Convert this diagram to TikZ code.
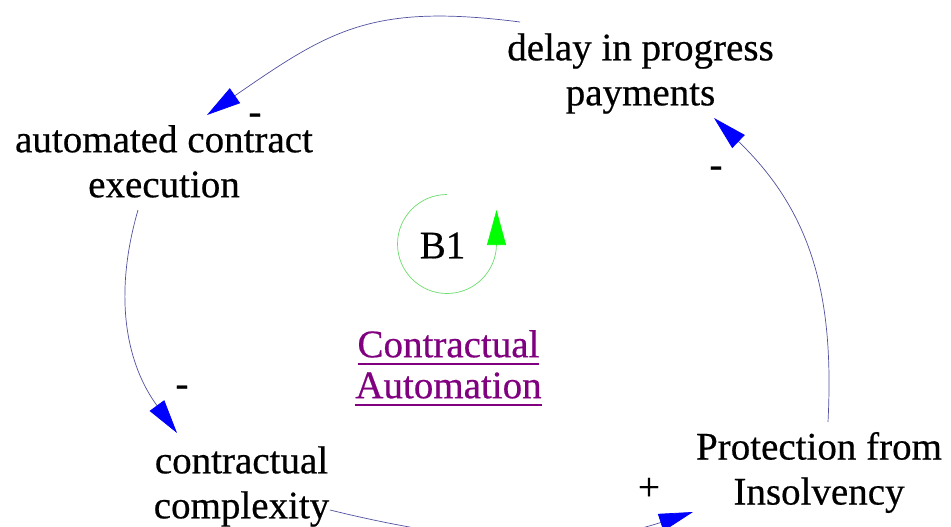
\documentclass[tikz,border=0pt]{standalone}
\usepackage{fontspec}
\setmainfont{Liberation Serif}[FakeBold=0.5]
\usetikzlibrary{arrows.meta}
\definecolor{linkline}{RGB}{80,80,160}
\definecolor{tipblue}{RGB}{0,0,255}
\definecolor{loopgreen}{RGB}{110,220,110}
\definecolor{tipgreen}{RGB}{0,255,0}
\definecolor{looppurple}{RGB}{128,0,128}
\newsavebox\ulbox
\newcommand\ulline[1]{\sbox\ulbox{#1}\rlap{\rule[-8pt]{\wd\ulbox}{2pt}}\usebox\ulbox}
\begin{document}
\begin{tikzpicture}[x=1pt,y=-1pt,
  var/.style={font=\fontsize{39}{45}\selectfont, align=center, inner sep=0pt},
  pol/.style={font=\fontsize{39}{45}\selectfont, inner sep=0pt},
  looptitle/.style={font=\fontsize{39}{41}\selectfont, text=looppurple, align=center, inner sep=0pt},
  loopname/.style={font=\fontsize{39}{45}\selectfont, inner sep=0pt},
  link/.style={draw=linkline, line width=0.7pt,
    -{Triangle[length=34pt,width=18pt,color=tipblue]}},
  looparrow/.style={draw=loopgreen, line width=0.7pt,
    -{Triangle[length=35pt,width=19pt,color=tipgreen]}}]
\fill[white] (0,0) rectangle (951,527);
\path[use as bounding box] (0,0) rectangle (951,527);

% variables
\node[var] (delay) at (640.5,73.5) {delay in progress\\payments};
\node[var] (auto) at (164,161.4) {automated contract\\execution};
\node[var] (cplx) at (241.5,486.5) {contractual\\complexity};
\node[var] (prot) at (819,472.5) {Protection from\\Insolvency};

% loop identifier and name
\node[loopname] (B1) at (442.5,245.5) {B1};
\node[looptitle] (title) at (448.5,368.2) {\ulline{Contractual}\\\ulline{Automation}};

% causal links
\draw[link] ([shift={(-120.5,-51.5)}]delay.center)
  .. controls +(-148,-19) and +(123,-85) .. ([shift={(43,-46.4)}]auto.center);
\draw[link] ([shift={(-26,48.6)}]auto.center)
  .. controls +(-26,90) and +(-49,-67) .. ([shift={(-64.5,-53.5)}]cplx.center);
\draw[link] ([shift={(88.5,23.5)}]cplx.center)
  .. controls +(126,31) and +(-123,40) .. ([shift={(-126,39.5)}]prot.center);
\draw[link] ([shift={(9,-50.5)}]prot.center)
  .. controls +(6,-120) and +(101,97) .. ([shift={(73.5,44.5)}]delay.center);

% link polarities
\node[pol] (m1) at (255,119) {-};
\node[pol] (m2) at (182,391) {-};
\node[pol] (p3) at (649,489) {+};
\node[pol] (m4) at (716,172) {-};

% balancing loop marker
\draw[looparrow] ([shift={(4.5,-51)}]B1.center)
  arc[start angle=90,end angle=360,radius=49.5pt] -- ++(0,-34);
\end{tikzpicture}
\end{document}
